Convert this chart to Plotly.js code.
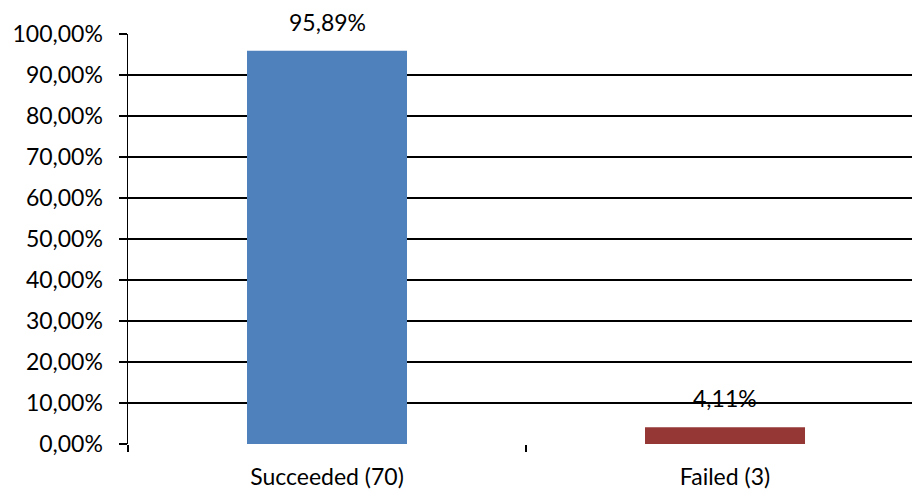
<!DOCTYPE html>
<html>
<head>
<meta charset="utf-8">
<script src="https://cdn.plot.ly/plotly-3.0.1.min.js"></script>
<style>html,body{margin:0;padding:0;background:#fff;overflow:hidden}#chart{width:912px;height:492px}</style>
</head>
<body>
<div id="chart"></div>
<script>
const categories = ["Succeeded (70)", "Failed (3)"];
const percentages = [95.89, 4.11];
const labels = ["95,89%", "4,11%"];
const barColors = ["#4F81BD", "#953735"];
const yTicks = [0, 10, 20, 30, 40, 50, 60, 70, 80, 90, 100];
const yTickText = ["0,00%", "10,00%", "20,00%", "30,00%", "40,00%", "50,00%", "60,00%", "70,00%", "80,00%", "90,00%", "100,00%"];

const FONT = "Lato, 'Open Sans', sans-serif";
const FS = 23;

const trace = {
  type: "bar",
  x: categories,
  y: percentages,
  marker: { color: barColors, line: { width: 0 } },
  width: 0.402,
  hoverinfo: "skip"
};

const annotations = categories.map((c, i) => ({
  x: c, y: percentages[i], xref: "x", yref: "y",
  text: labels[i], showarrow: false, yanchor: "bottom", yshift: 13,
  font: { family: FONT, size: FS, color: "#000" }
}));

const layout = {
  width: 912, height: 492,
  margin: { l: 128, r: 0, t: 34, b: 48, pad: 0 },
  paper_bgcolor: "#fff", plot_bgcolor: "#fff",
  showlegend: false,
  font: { family: FONT, size: FS, color: "#000" },
  xaxis: {
    type: "category",
    range: [-0.5, 1.4698],
    showgrid: false, zeroline: false,
    showline: false,
    ticks: "outside", ticklen: 7, tickwidth: 1.5, tickcolor: "#000",
    tickson: "boundaries",
    ticklabelstandoff: 17,
    tickfont: { family: FONT, size: FS, color: "#000" },
    fixedrange: true
  },
  yaxis: {
    range: [0, 100],
    tickvals: yTicks,
    ticktext: yTickText,
    showgrid: true, gridcolor: "#000", gridwidth: 1.5,
    zeroline: false,
    showline: true, linecolor: "#000", linewidth: 1.5,
    ticks: "outside", ticklen: 8, tickwidth: 1.5, tickcolor: "#000",
    ticklabelstandoff: 11,
    tickfont: { family: FONT, size: FS, color: "#000" },
    fixedrange: true
  },
  annotations: annotations
};

Plotly.newPlot("chart", [trace], layout, { displayModeBar: false, staticPlot: true });
</script>
</body>
</html>
